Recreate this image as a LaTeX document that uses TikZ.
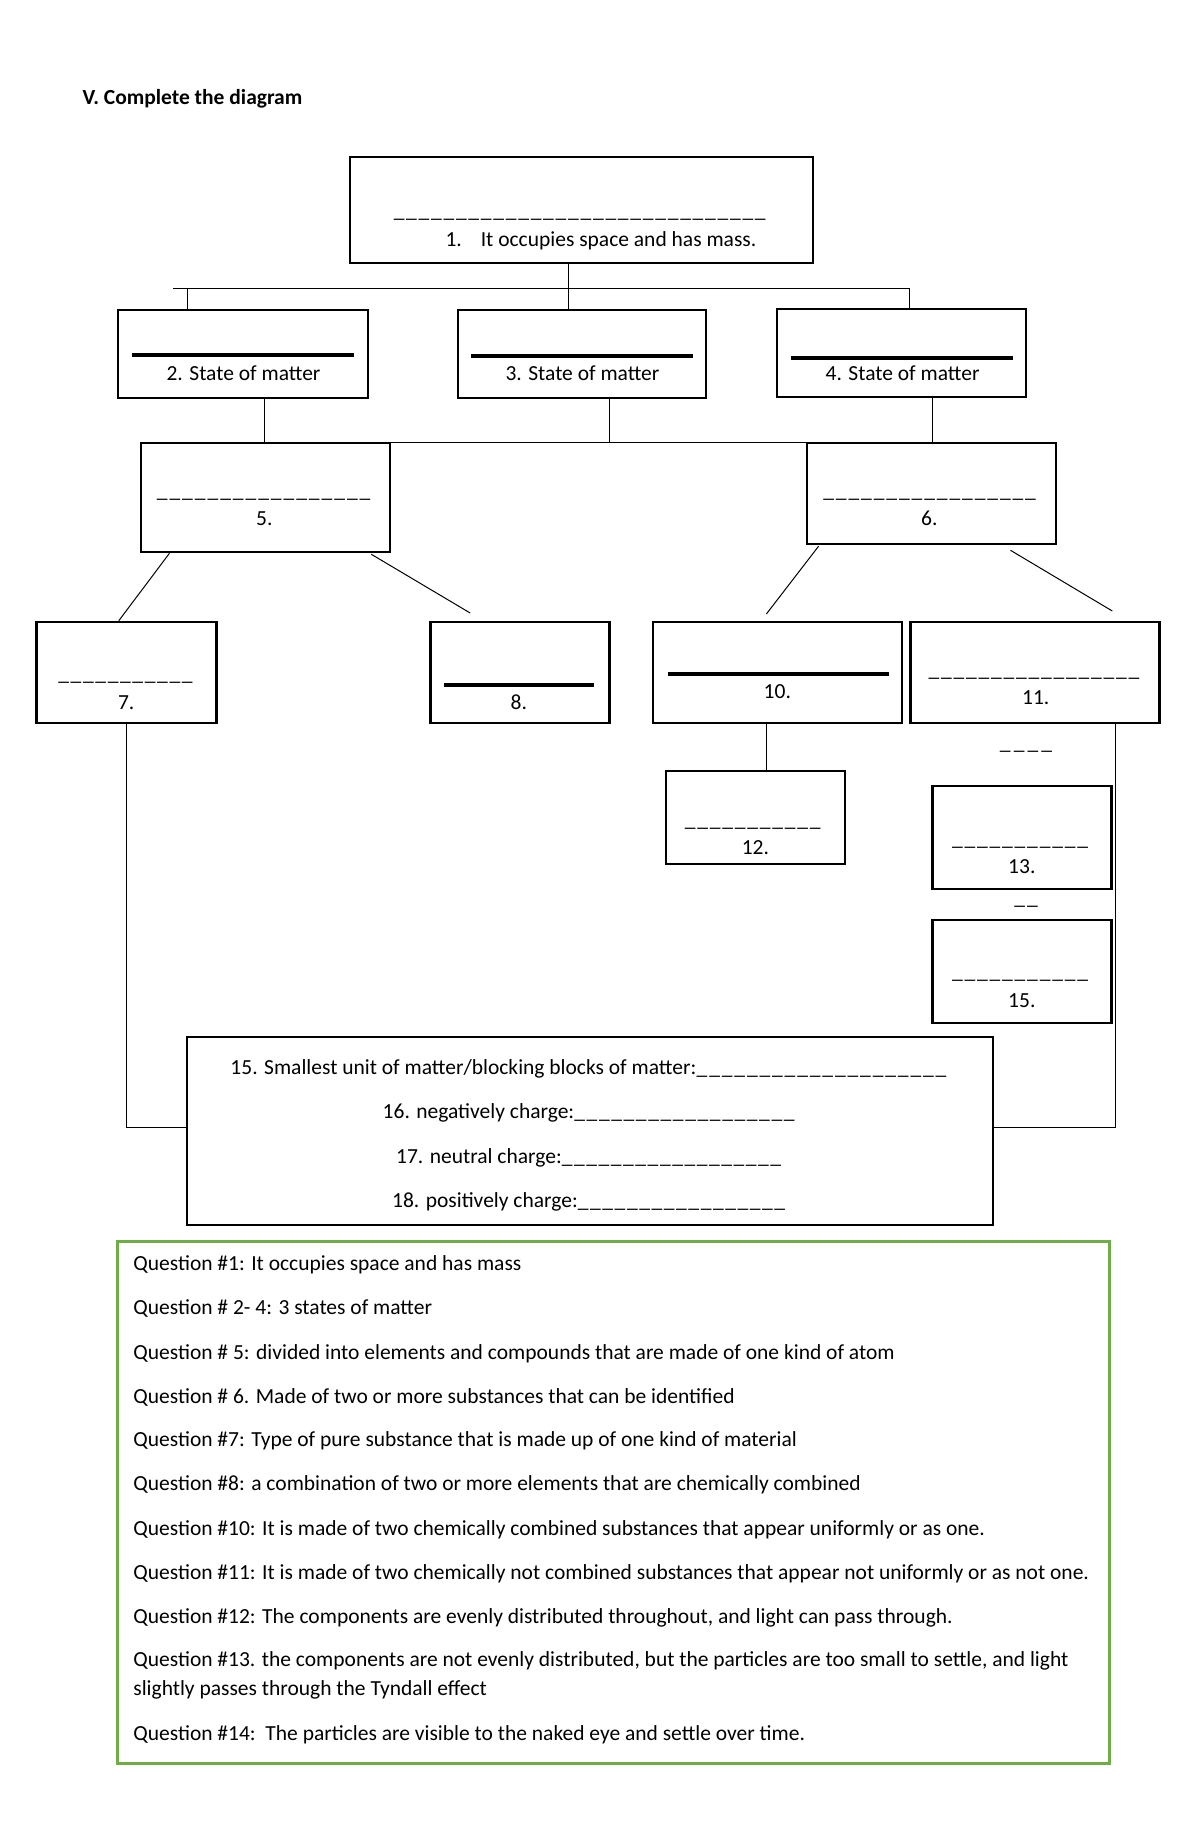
\documentclass[tikz,border=0pt]{standalone}
\usepackage{fontspec}
\setmainfont{Carlito}
\usetikzlibrary{calc}
\definecolor{keygreen}{RGB}{112,173,71}
\newcommand\blankline[1]{\makebox[#1]{\xleaders\hbox{\_\kern1.5pt}\hfill}}
\begin{document}
\begin{tikzpicture}[x=0.994pt,y=-1pt]
	\tikzset{box/.style={draw,line width=2.5pt,inner sep=0pt},
		conn/.style={line width=1pt},
		bar/.style={line width=4pt},
		txt/.style={anchor=base,inner sep=0pt,font=\fontsize{21.5}{25}\selectfont}}
	\useasboundingbox (0,0) rectangle (1207.2,1835);
	\node[txt,anchor=base west,font=\fontsize{21.5}{25}\selectfont\bfseries] (title) at (83,105) {V. Complete the diagram};
	% boxes
	\node[box,minimum width=463pt,minimum height=106pt] (b1) at (585,210) {};
	\node[box,minimum width=250pt,minimum height=88pt] (b2) at (244.5,354) {};
	\node[box,minimum width=248pt,minimum height=88pt] (b3) at (585.5,354) {};
	\node[box,minimum width=249pt,minimum height=88pt] (b4) at (907,353) {};
	\node[box,minimum width=249pt,minimum height=109pt] (b5) at (267,497.5) {};
	\node[box,minimum width=249pt,minimum height=101pt] (b6) at (937,493.5) {};
	\node[box,minimum width=180pt,minimum height=101pt] (b7) at (127.5,672.5) {};
	\node[box,minimum width=179pt,minimum height=101pt] (b8) at (523,672.5) {};
	\node[box,minimum width=249pt,minimum height=101pt] (b10) at (782,672.5) {};
	\node[box,minimum width=249pt,minimum height=101pt] (b11) at (1041,672.5) {};
	\node[box,minimum width=179pt,minimum height=93pt] (b12) at (760,817.5) {};
	\node[box,minimum width=179pt,minimum height=103pt] (b13) at (1028,837.5) {};
	\node[box,minimum width=179pt,minimum height=103pt] (b15) at (1028,971.5) {};
	\node[box,minimum width=806pt,minimum height=188pt] (big) at (593.5,1131) {};
	\node[draw=keygreen,line width=3pt,minimum width=992pt,minimum height=522pt] (key) at (617,1502) {};
	% blanks and labels
	\node[txt] (l1) at (584,218) {\blankline{374pt}};
	\node[txt,anchor=base west] (t1) at (448,247) {1.\hspace{19pt}It occupies space and has mass.};
	\draw[bar] (133,355) -- (356,355);
	\draw[bar] (474,356) -- (697,356);
	\draw[bar] (796,358) -- (1019,358);
	\node[txt] (t2) at (245,380) {2. State of matter};
	\node[txt] (t3) at (586,380) {3. State of matter};
	\node[txt] (t4) at (908,380) {4. State of matter};
	\node[txt] (l5) at (266,497) {\blankline{216pt}};
	\node[txt] (t5) at (266,525) {5.};
	\node[txt] (l6) at (936,497) {\blankline{215pt}};
	\node[txt] (t6) at (935,525) {6.};
	\node[txt] (l7) at (127,680) {\blankline{136pt}};
	\node[txt] (t7) at (127,709) {7.};
	\draw[bar] (447,685) -- (598,685);
	\node[txt] (t8) at (522,709) {8.};
	\draw[bar] (672,674) -- (894,674);
	\node[txt] (t10) at (782,698) {10.};
	\node[txt] (l11) at (1041,676) {\blankline{213pt}};
	\node[txt] (t11) at (1042,704) {11.};
	\node[txt] (s11) at (1033,749) {\blankline{57pt}};
	\node[txt] (l12) at (758,826) {\blankline{138pt}};
	\node[txt] (t12) at (760,854) {12.};
	\node[txt] (l13) at (1027,845) {\blankline{138pt}};
	\node[txt] (t13) at (1028,873) {13.};
	\node[txt] (s13) at (1033,904) {\blankline{26pt}};
	\node[txt] (l15) at (1027,978) {\blankline{138pt}};
	\node[txt] (t15) at (1028,1007) {15.};
	\node[txt] (a15) at (593,1074) {15. Smallest unit of matter/blocking blocks of matter:\blankline{252pt}};
	\node[txt] (a16) at (593,1118) {16. negatively charge:\blankline{222pt}};
	\node[txt] (a17) at (593,1163) {17. neutral charge:\blankline{221pt}};
	\node[txt] (a18) at (593,1207) {18. positively charge:\blankline{209pt}};
	% key
	\node[txt,anchor=base west] (q1) at (134,1270) {Question \#1: It occupies space and has mass};
	\node[txt,anchor=base west] (q2) at (134,1314) {Question \# 2- 4: 3 states of matter};
	\node[txt,anchor=base west] (q5) at (134,1359) {Question \# 5: divided into elements and compounds that are made of one kind of atom};
	\node[txt,anchor=base west] (q6) at (134,1403) {Question \# 6. Made of two or more substances that can be identified};
	\node[txt,anchor=base west] (q7) at (134,1446) {Question \#7: Type of pure substance that is made up of one kind of material};
	\node[txt,anchor=base west] (q8) at (134,1490) {Question \#8: a combination of two or more elements that are chemically combined};
	\node[txt,anchor=base west] (q10) at (134,1535) {Question \#10: It is made of two chemically combined substances that appear uniformly or as one.};
	\node[txt,anchor=base west] (q11) at (134,1579) {Question \#11: It is made of two chemically not combined substances that appear not uniformly or as not one.};
	\node[txt,anchor=base west] (q12) at (134,1623) {Question \#12: The components are evenly distributed throughout, and light can pass through.};
	\node[txt,anchor=base west] (q13) at (134,1666) {Question \#13. the components are not evenly distributed, but the particles are too small to settle, and light};
	\node[txt,anchor=base west] (q13b) at (134,1695) {slightly passes through the Tyndall effect};
	\node[txt,anchor=base west] (q14) at (134,1740) {Question \#14:\ \ The particles are visible to the naked eye and settle over time.};
	% connectors
	\coordinate (j1) at (572,288);
	\coordinate (busL) at (174,288);
	\coordinate (busR) at (915,288);
	\coordinate (d2) at (189,288);
	\draw[conn] (j1 |- b1.south) -- (j1);
	\draw[conn] (busL) -- (busR);
	\draw[conn] (d2) -- (d2 |- b2.north);
	\draw[conn] (j1) -- (j1 |- b3.north);
	\draw[conn] (busR) -- (busR |- b4.north);
	\coordinate (e2) at (266,442);
	\coordinate (e3) at (613,442);
	\coordinate (e4) at (938,442);
	\draw[conn] (e2 |- b2.south) -- (e2) -- (e4) -- (e4 |- b4.south);
	\draw[conn] (e3 |- b3.south) -- (e3);
	\coordinate (c8) at (473,613);
	\coordinate (c10) at (771,614);
	\coordinate (c11) at (1119,611);
	\draw[conn] ($(b5.south west)+(30,0)$) -- ($(b7.north)+(-8,0)$);
	\draw[conn] ($(b5.south east)+(-20,1)$) -- (c8);
	\draw[conn] ($(b6.south west)+(13,1)$) -- (c10);
	\draw[conn] ($(b6.south east)+(-47,5)$) -- (c11);
	\draw[conn] ($(b10.south)+(-11,0)$) -- ($(b12.north)+(11,0)$);
	\draw[conn] (b7.south) |- ($(big.west)+(0,-4)$);
	\draw[conn] ($(b11.south)+(81,0)$) |- ($(big.east)+(0,-4)$);
\end{tikzpicture}
\end{document}
